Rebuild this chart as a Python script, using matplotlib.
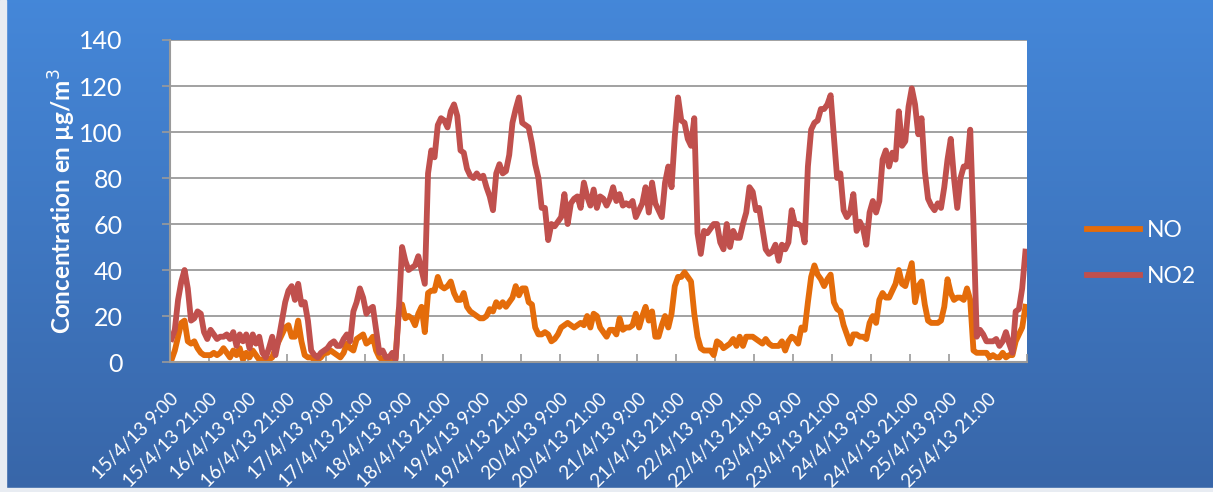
import numpy as np
import matplotlib
matplotlib.use('Agg')
import matplotlib.pyplot as plt
from matplotlib.patches import Rectangle

# hourly concentrations (µg/m3), 15/4/13 9:00 -> 26/4/13 8:00
no = [1, 5, 11, 17, 18, 9, 8, 9, 6, 4, 3, 3,
      3, 4, 3, 4, 6, 4, 2, 5, 3, 6, 1, 4,
      2, 5, 3, 1, 1, 1, 1, 2, 6, 9, 12, 15,
      16, 11, 11, 18, 9, 3, 2, 2, 1, 1, 2, 4,
      4, 5, 4, 3, 2, 4, 8, 6, 5, 10, 11, 12,
      8, 9, 11, 5, 2, 1, 1, 1, 1, 2, 23, 25,
      19, 20, 19, 16, 21, 24, 13, 30, 31, 31, 37, 33,
      32, 33, 35, 30, 27, 27, 30, 24, 22, 21, 20, 19,
      19, 20, 23, 22, 26, 24, 26, 24, 26, 28, 33, 29,
      32, 32, 26, 25, 15, 12, 12, 13, 12, 9, 10, 12,
      15, 16, 17, 16, 15, 16, 17, 16, 20, 15, 21, 20,
      15, 13, 11, 14, 14, 12, 19, 14, 15, 15, 16, 21,
      15, 20, 24, 18, 22, 11, 11, 16, 20, 15, 21, 33,
      37, 37, 39, 37, 35, 21, 11, 6, 5, 5, 5, 3,
      9, 8, 6, 7, 8, 10, 7, 11, 7, 11, 11, 11,
      10, 9, 8, 10, 8, 7, 7, 7, 9, 5, 9, 11,
      10, 8, 15, 14, 26, 37, 42, 38, 36, 33, 36, 38,
      26, 23, 22, 16, 12, 8, 12, 12, 11, 11, 10, 17,
      20, 17, 27, 30, 28, 28, 31, 34, 40, 34, 33, 38,
      43, 26, 33, 35, 25, 18, 17, 17, 17, 18, 24, 36,
      30, 27, 28, 28, 27, 32, 27, 5, 4, 4, 4, 4,
      2, 3, 2, 2, 4, 2, 3, 3, 9, 12, 15, 24]

no2 = [10, 14, 27, 35, 40, 32, 18, 19, 22, 21, 13, 10,
       14, 12, 10, 11, 11, 12, 10, 13, 7, 12, 9, 12,
       6, 12, 8, 11, 4, 2, 6, 11, 3, 10, 18, 26,
       31, 33, 27, 34, 25, 26, 18, 5, 3, 2, 4, 5,
       6, 8, 9, 7, 7, 10, 12, 9, 22, 26, 32, 28,
       21, 23, 24, 14, 4, 5, 2, 2, 4, 1, 22, 50,
       44, 40, 41, 42, 46, 40, 34, 82, 92, 89, 103, 106,
       105, 102, 109, 112, 107, 92, 91, 84, 81, 80, 82, 80,
       81, 76, 72, 66, 82, 86, 82, 83, 90, 104, 110, 115,
       104, 103, 102, 95, 86, 80, 67, 67, 53, 60, 59, 61,
       63, 73, 60, 69, 71, 72, 67, 78, 72, 68, 75, 67,
       72, 71, 68, 71, 76, 70, 73, 68, 69, 68, 70, 63,
       66, 69, 76, 65, 78, 69, 66, 63, 78, 85, 76, 98,
       115, 105, 104, 97, 94, 106, 56, 47, 57, 56, 58, 60,
       60, 52, 49, 60, 50, 57, 54, 54, 60, 65, 76, 74,
       66, 67, 58, 49, 47, 48, 51, 44, 51, 49, 52, 66,
       60, 60, 59, 52, 85, 101, 104, 105, 110, 110, 112, 116,
       98, 80, 82, 66, 63, 65, 73, 57, 61, 58, 51, 65,
       70, 65, 70, 88, 92, 85, 91, 88, 109, 94, 96, 111,
       119, 112, 99, 106, 83, 71, 68, 66, 69, 67, 76, 88,
       97, 80, 67, 80, 85, 85, 101, 60, 11, 14, 12, 9,
       9, 9, 10, 7, 9, 13, 8, 4, 22, 23, 32, 48]

date_labels = ['15/4/13 9:00', '15/4/13 21:00', '16/4/13 9:00', '16/4/13 21:00',
               '17/4/13 9:00', '17/4/13 21:00', '18/4/13 9:00', '18/4/13 21:00',
               '19/4/13 9:00', '19/4/13 21:00', '20/4/13 9:00', '20/4/13 21:00',
               '21/4/13 9:00', '21/4/13 21:00', '22/4/13 9:00', '22/4/13 21:00',
               '23/4/13 9:00', '23/4/13 21:00', '24/4/13 9:00', '24/4/13 21:00',
               '25/4/13 9:00', '25/4/13 21:00']

plt.rcParams['font.family'] = ['Lato', 'DejaVu Sans']

fig = plt.figure(figsize=(12.13, 4.92), dpi=100)

# blue gradient background
bg = fig.add_axes([0, 0, 1, 1], zorder=-10)
grad = np.linspace(0, 1, 256).reshape(-1, 1)
top = np.array([0.27, 0.53, 0.85])
bottom = np.array([0.22, 0.40, 0.66])
img = top + (bottom - top) * grad[:, :, None]
bg.imshow(img, aspect='auto', extent=[0, 1, 0, 1])
bg.add_patch(Rectangle((0, 0), 0.005, 1, color='#e8ecf2', transform=bg.transAxes))
bg.add_patch(Rectangle((0, 0), 1, 0.008, color='#e8ecf2', transform=bg.transAxes))
bg.set_xlim(0, 1)
bg.set_ylim(0, 1)
bg.axis('off')

ax = fig.add_axes([0.1401, 0.2642, 0.7066, 0.6545])
ax.set_facecolor('white')

x = np.arange(len(no)) + 0.5
ax.plot(x, no, color='#E46C0A', lw=4.2, label='NO', solid_joinstyle='round')
ax.plot(x, no2, color='#C0504D', lw=4.2, label='NO2', solid_joinstyle='round')

ax.set_xlim(0, len(no))
ax.set_ylim(0, 140)
ax.set_yticks(range(0, 141, 20))
ax.yaxis.grid(True, color='#9a9a9a', lw=1.3)
ax.set_axisbelow(True)

ax.set_xticks(range(0, len(no) + 1, 12))
ax.set_xticklabels(date_labels + [''], rotation=45, ha='right', va='top',
                   rotation_mode='anchor', color='white', fontsize=13.5)
ax.tick_params(axis='x', direction='in', length=6, color='#9a9a9a', width=1.2, pad=20)
ax.tick_params(axis='y', direction='out', length=6, color='#9a9a9a', width=1.2,
               labelcolor='white', labelsize=18, pad=28)

for s in ['top', 'right']:
    ax.spines[s].set_visible(False)
for s in ['left', 'bottom']:
    ax.spines[s].set_color('#9a9a9a')
    ax.spines[s].set_linewidth(1.5)

ax.set_ylabel('Concentration en µg/m$^3$', color='white', fontsize=17.5,
              fontweight='bold', labelpad=1)

fig.legend(loc='center left', bbox_to_anchor=(0.879, 0.485), frameon=False,
           fontsize=16.5, labelcolor='white', handlelength=2.3, handletextpad=0.3,
           labelspacing=1.1)

plt.savefig('out.png', dpi=100)
